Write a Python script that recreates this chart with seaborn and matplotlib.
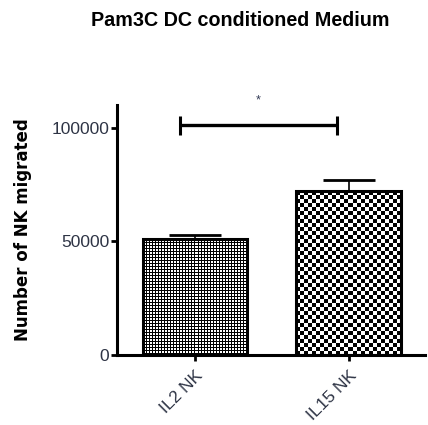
import numpy as np
import pandas as pd
import matplotlib
matplotlib.use("Agg")
import matplotlib.pyplot as plt
import seaborn as sns

# Data
groups = ["IL2 NK", "IL15 NK"]
mean_migrated = [51000, 72000]
sem_migrated = [1600, 4800]
y_ticks = [0, 50000, 100000]
sig_label = "*"
sig_height = 101000

sns.set_theme(style="white")
plt.rcParams["font.family"] = ["Liberation Sans Narrow", "Liberation Sans", "DejaVu Sans"]

fig = plt.figure(figsize=(4.28, 4.25), dpi=100)
ax = fig.add_axes([117 / 428, 1 - 355 / 425, (425 - 117) / 428, (355 - 105) / 425])

df = pd.DataFrame({"group": groups, "count": mean_migrated})
sns.barplot(data=df, x="group", y="count", ax=ax, width=0.68, errorbar=None,
            color="white", edgecolor="black", linewidth=2.2, saturation=1)

ax.set_xlim(-0.508, 1.498)
ax.set_ylim(0, 110000)

# error bars (upper only)
ax.errorbar(range(len(groups)), mean_migrated,
            yerr=[np.zeros(len(groups)), sem_migrated],
            fmt="none", ecolor="black", elinewidth=1.2, capsize=18.5,
            capthick=2.0, zorder=3)

# checkerboard fills, clipped to each bar
fig.canvas.draw()
for k, bar in enumerate(ax.patches):
    bb = bar.get_window_extent()
    w, h = int(round(bb.width)), int(round(bb.height))
    ii, jj = np.mgrid[0:h, 0:w]
    if k == 0:
        dark = (ii % 3 == 0) | (jj % 3 == 0)
    else:
        dark = ((ii // 4) + (jj // 4)) % 2 == 0
    img = np.where(dark, 0.0, 1.0)
    x0, y0 = bar.get_x(), bar.get_y()
    im = ax.imshow(img, cmap="gray", vmin=0, vmax=1, interpolation="nearest",
                   extent=[x0, x0 + bar.get_width(), y0, y0 + bar.get_height()],
                   aspect="auto", zorder=1.5)
    im.set_clip_path(bar)
    bar.set_facecolor("none")
    bar.set_zorder(2)

ax.set_xlim(-0.508, 1.498)
ax.set_ylim(0, 110000)

# significance bracket
bx0, bx1 = -0.098, 0.928
ax.plot([bx0, bx1], [sig_height, sig_height], color="black", lw=2.4,
        solid_capstyle="butt", clip_on=False)
for bx in (bx0, bx1):
    ax.plot([bx, bx], [sig_height - 4000, sig_height + 4000], color="black",
            lw=2.2, solid_capstyle="butt", clip_on=False)
ax.text(0.41, 112000, sig_label, ha="center", va="center", fontsize=9,
        color="#333a55", clip_on=False)

# axes styling
for s in ("top", "right"):
    ax.spines[s].set_visible(False)
for s in ("left", "bottom"):
    ax.spines[s].set_linewidth(2.2)
    ax.spines[s].set_color("black")

ax.set_yticks(y_ticks)
ax.set_yticklabels([str(v) for v in y_ticks], fontsize=12.5, color="#2e3445")
ax.tick_params(axis="both", which="major", direction="out", length=4.5,
               width=2.0, color="black", left=True, bottom=True)
ax.tick_params(axis="y", pad=1)
ax.tick_params(axis="x", pad=5)
ax.set_xticks(range(len(groups)))
ax.set_xticklabels(groups, rotation=45, ha="right", va="top",
                   rotation_mode="anchor", fontsize=12.5, color="#2e3445")
ax.set_xlabel("")
ax.set_ylabel("Number of NK migrated", fontsize=12, fontweight="bold",
              family="DejaVu Sans", color="black", labelpad=14)

fig.text(0.561, 1 - 20 / 425, "Pam3C DC conditioned Medium", ha="center",
         va="center", fontsize=14.2, fontweight="bold", color="black")

fig.savefig("out.png", dpi=100)
